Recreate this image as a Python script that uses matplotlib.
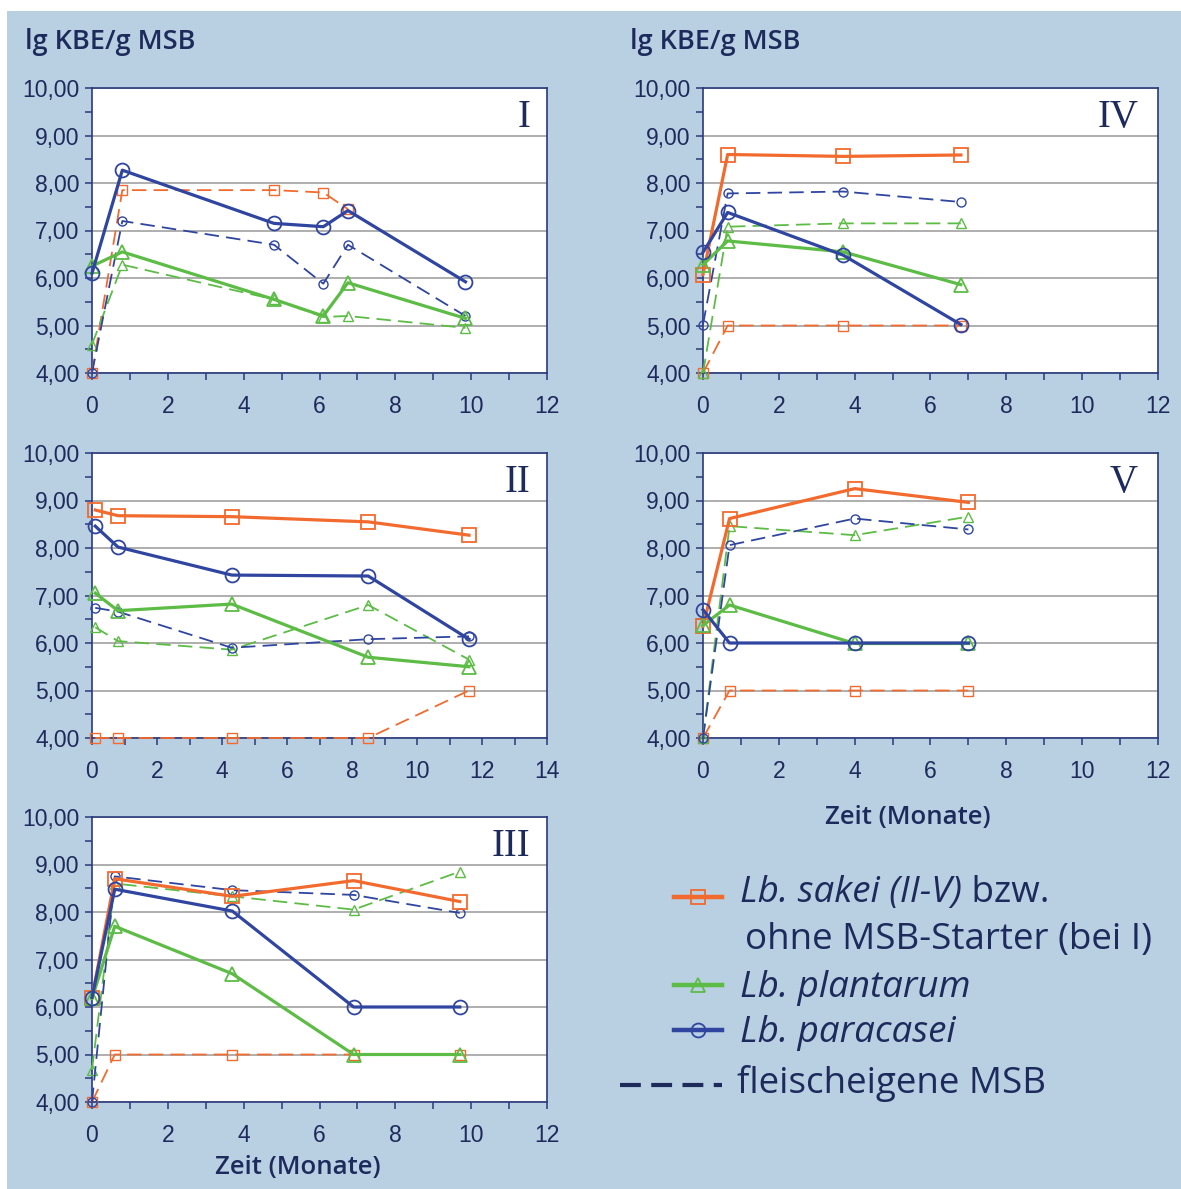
import math
import matplotlib
matplotlib.use("Agg")
import matplotlib.pyplot as plt
from matplotlib.patches import Rectangle
from matplotlib.lines import Line2D
from matplotlib.ticker import MultipleLocator, FuncFormatter

# --- data (lg KBE/g MSB over Zeit in Monaten) ---
nan = float("nan")

# I: ohne MSB-Starter
t1 = [0, 0.8, 4.8, 6.1, 6.75, 9.85]
ohne_msb1 = [4.0, 7.85, 7.85, 7.8, 7.45, nan]
plant1 = [6.25, 6.55, 5.55, 5.2, 5.9, 5.15]
plant_msb1 = [4.6, 6.28, 5.55, 5.18, 5.2, 4.95]
para1 = [6.1, 8.27, 7.15, 7.08, 7.42, 5.92]
para_msb1 = [4.0, 7.2, 6.7, 5.88, 6.7, 5.2]

# II
t2 = [0.1, 0.8, 4.3, 8.5, 11.6]
sakei2 = [8.8, 8.68, 8.66, 8.55, 8.27]
sakei_msb2 = [4.0, 4.0, 4.0, 4.0, 5.0]
plant2 = [7.05, 6.68, 6.82, 5.7, 5.5]
plant_msb2 = [6.33, 6.04, 5.86, 6.8, 5.65]
para2 = [8.46, 8.02, 7.43, 7.41, 6.08]
para_msb2 = [6.74, 6.66, 5.9, 6.08, 6.14]

# III
t3 = [0, 0.6, 3.7, 6.9, 9.7]
sakei3 = [6.2, 8.7, 8.33, 8.66, 8.22]
sakei_msb3 = [4.0, 5.0, 5.0, 5.0, 5.0]
plant3 = [6.18, 7.7, 6.7, 5.0, 5.0]
plant_msb3 = [4.68, 8.6, 8.33, 8.05, 8.85]
para3 = [6.2, 8.48, 8.02, 6.0, 6.0]
para_msb3 = [4.0, 8.75, 8.46, 8.36, 7.98]

# IV
t4 = [0, 0.65, 3.7, 6.8]
sakei4 = [6.07, 8.6, 8.56, 8.59]
sakei_msb4 = [4.0, 5.0, 5.0, 5.0]
plant4 = [6.28, 6.78, 6.55, 5.86]
plant_msb4 = [4.0, 7.08, 7.15, 7.15]
para4 = [6.54, 7.38, 6.48, 5.02]
para_msb4 = [5.02, 7.78, 7.82, 7.6]

# V
t5 = [0, 0.7, 4.0, 7.0]
sakei5 = [6.35, 8.62, 9.25, 8.96]
sakei_msb5 = [4.0, 5.0, 5.0, 5.0]
plant5 = [6.37, 6.8, 5.99, 5.99]
plant_msb5 = [4.0, 8.46, 8.27, 8.66]
para5 = [6.7, 6.0, 6.0, 6.0]
para_msb5 = [4.0, 8.06, 8.62, 8.39]

ORANGE = "#f26a2e"
GREEN = "#5cbc45"
BLUE = "#2f45a0"
NAVY = "#1d2b5c"
SPINE = "#2a3a7c"
BG = "#b9cfe2"
GRID = "#a8a8a8"

W, H = 1181, 1189
fig = plt.figure(figsize=(W / 100, H / 100), dpi=100)
fig.patch.set_facecolor("white")
fig.add_artist(Rectangle((7 / W, 0), 1 - 7 / W, 1 - 11 / H, transform=fig.transFigure,
                         facecolor=BG, edgecolor="none", zorder=-10))


def px_axes(left, top, right, bottom):
    return fig.add_axes([left / W, 1 - bottom / H, (right - left) / W, (bottom - top) / H])


def comma(v, pos):
    return ("%.2f" % v).replace(".", ",")


def style(ax, xmax, label, lx):
    ax.set_xlim(0, xmax)
    ax.set_ylim(4, 10)
    ax.yaxis.set_major_locator(MultipleLocator(1))
    ax.yaxis.set_minor_locator(MultipleLocator(0.5))
    ax.xaxis.set_major_locator(MultipleLocator(2))
    ax.xaxis.set_minor_locator(MultipleLocator(1))
    ax.yaxis.set_major_formatter(FuncFormatter(comma))
    ax.grid(axis="y", which="major", color=GRID, lw=1.3, zorder=0)
    ax.set_axisbelow(True)
    for s in ax.spines.values():
        s.set_color(SPINE)
        s.set_linewidth(1.2)
    ax.tick_params(which="both", direction="out", color=SPINE, width=1.1, length=5)
    ax.tick_params(axis="y", which="major", pad=4)
    ax.tick_params(axis="x", which="major", pad=11)
    for t in ax.get_xticklabels() + ax.get_yticklabels():
        t.set_fontfamily("Liberation Sans")
        t.set_fontsize(16.5)
        t.set_color(NAVY)
    ax.text(lx, 0.897, label, transform=ax.transAxes, ha="right", va="center",
            fontsize=28, family="Liberation Serif", color=NAVY)


def solid(ax, t, y, color, marker):
    ax.plot(t, y, color=color, lw=2.3, marker=marker, ms=10, mfc="none", mec=color,
            mew=1.3, clip_on=False, zorder=4)


def dashed(ax, t, y, color, marker):
    ax.plot(t, y, color=color, lw=1.3, ls=(0, (8, 4)), marker=marker, ms=6.5, mfc="none",
            mec=color, mew=1.0, clip_on=False, zorder=3)


# panel I
ax1 = px_axes(92, 88, 547, 373)
dashed(ax1, t1, ohne_msb1, ORANGE, "s")
dashed(ax1, t1, plant_msb1, GREEN, "^")
dashed(ax1, t1, para_msb1, BLUE, "o")
solid(ax1, t1, plant1, GREEN, "^")
solid(ax1, t1, para1, BLUE, "o")
style(ax1, 12, "I", 0.963)

# panel IV
ax4 = px_axes(703, 88, 1158, 373)
dashed(ax4, t4, sakei_msb4, ORANGE, "s")
dashed(ax4, t4, plant_msb4, GREEN, "^")
dashed(ax4, t4, para_msb4, BLUE, "o")
solid(ax4, t4, sakei4, ORANGE, "s")
solid(ax4, t4, plant4, GREEN, "^")
solid(ax4, t4, para4, BLUE, "o")
style(ax4, 12, "IV", 0.958)

# panel II
ax2 = px_axes(92, 453, 547, 738)
dashed(ax2, t2, sakei_msb2, ORANGE, "s")
dashed(ax2, t2, plant_msb2, GREEN, "^")
dashed(ax2, t2, para_msb2, BLUE, "o")
solid(ax2, t2, sakei2, ORANGE, "s")
solid(ax2, t2, plant2, GREEN, "^")
solid(ax2, t2, para2, BLUE, "o")
style(ax2, 14, "II", 0.963)

# panel V
ax5 = px_axes(703, 453, 1158, 738)
dashed(ax5, t5, sakei_msb5, ORANGE, "s")
dashed(ax5, t5, plant_msb5, GREEN, "^")
dashed(ax5, t5, para_msb5, BLUE, "o")
solid(ax5, t5, sakei5, ORANGE, "s")
solid(ax5, t5, plant5, GREEN, "^")
solid(ax5, t5, para5, BLUE, "o")
style(ax5, 12, "V", 0.955)

# panel III
ax3 = px_axes(92, 817, 547, 1102)
dashed(ax3, t3, sakei_msb3, ORANGE, "s")
dashed(ax3, t3, plant_msb3, GREEN, "^")
dashed(ax3, t3, para_msb3, BLUE, "o")
solid(ax3, t3, sakei3, ORANGE, "s")
solid(ax3, t3, plant3, GREEN, "^")
solid(ax3, t3, para3, BLUE, "o")
style(ax3, 12, "III", 0.963)

# axis titles
for x in (25, 630):
    fig.text(x / W, 1 - 42 / H, "lg KBE/g MSB", ha="left", va="center", fontsize=19.5,
             family="Open Sans", weight="semibold", color=NAVY)
fig.text(298 / W, 1 - 1168 / H, "Zeit (Monate)", ha="center", va="center", fontsize=18.5,
         family="Open Sans", weight="semibold", color=NAVY)
fig.text(908 / W, 1 - 817 / H, "Zeit (Monate)", ha="center", va="center", fontsize=18.5,
         family="Open Sans", weight="semibold", color=NAVY)

# legend drawn in pixel coordinates
lg = px_axes(600, 850, 1181, 1120)
lg.set_xlim(600, 1181)
lg.set_ylim(1120, 850)
lg.axis("off")
rows = [(897, ORANGE, "s"), (985, GREEN, "^"), (1030, BLUE, "o")]
for y, c, m in rows:
    lg.add_line(Line2D([674, 722], [y, y], color=c, lw=3.2))
    lg.add_line(Line2D([698], [y], marker=m, ms=10, mfc="none", mec=c, mew=1.3))
lg.add_line(Line2D([620, 722], [1085, 1085], color=NAVY, lw=3.0, ls=(0, (5, 2.5))))

fs = 26.5
t_it = lg.text(740, 893, "Lb. sakei (II-V)", style="italic", fontsize=fs, family="Open Sans",
               color=NAVY, va="center", ha="left")
fig.canvas.draw()
bb = t_it.get_window_extent().transformed(lg.transData.inverted())
lg.text(bb.x1, 893, " bzw.", fontsize=fs, family="Open Sans", color=NAVY, va="center", ha="left")
lg.text(745, 940, "ohne MSB-Starter (bei I)", fontsize=fs, family="Open Sans", color=NAVY,
        va="center", ha="left")
lg.text(740, 988, "Lb. plantarum", style="italic", fontsize=fs, family="Open Sans",
        color=NAVY, va="center", ha="left")
lg.text(740, 1033, "Lb. paracasei", style="italic", fontsize=fs, family="Open Sans",
        color=NAVY, va="center", ha="left")
lg.text(737, 1083, "fleischeigene MSB", fontsize=fs, family="Open Sans", color=NAVY,
        va="center", ha="left")

fig.savefig("out.png", dpi=100, facecolor=fig.get_facecolor())
